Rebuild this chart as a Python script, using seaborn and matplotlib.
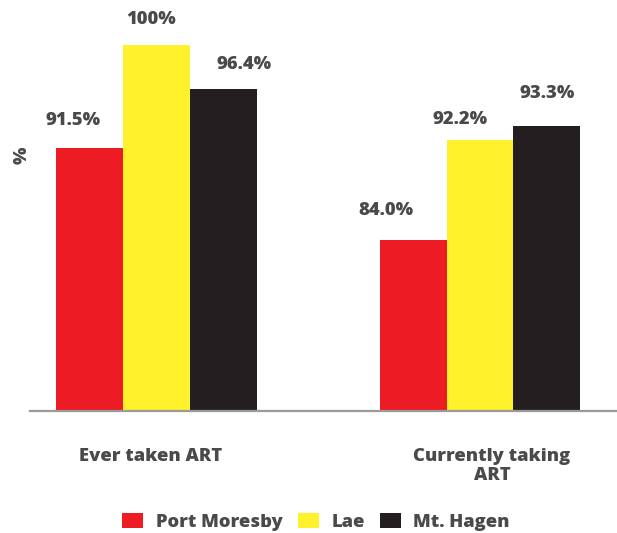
import matplotlib
matplotlib.use("Agg")
import matplotlib.pyplot as plt
import seaborn as sns
import pandas as pd

# Data
measures = ["Ever taken ART", "Currently taking\nART"]
cities = ["Port Moresby", "Lae", "Mt. Hagen"]
port_moresby = [91.5, 84.0]
lae = [100.0, 92.2]
mt_hagen = [96.4, 93.3]
value_labels = [["91.5%", "84.0%"], ["100%", "92.2%"], ["96.4%", "93.3%"]]

colors = ["#ED1C24", "#FFF22D", "#231F20"]
text_color = "#4A4A4A"
weight = "heavy"
fsize = 13.2

rows = []
for city, vals in zip(cities, [port_moresby, lae, mt_hagen]):
    for m, v in zip(measures, vals):
        rows.append({"measure": m, "city": city, "value": v})
df = pd.DataFrame(rows)

sns.set_theme(style="white")
plt.rcParams["font.family"] = ["Open Sans", "DejaVu Sans"]
plt.rcParams["font.weight"] = weight

fig = plt.figure(figsize=(6.17, 5.33), dpi=100)
W, H = 617, 533
ax = fig.add_axes([30 / W, 1 - 411 / H, 1 - 30 / W, (411 - 8) / H])

sns.barplot(data=df, x="measure", y="value", hue="city", order=measures,
            hue_order=cities, palette=colors, saturation=1, width=0.621,
            errorbar=None, linewidth=0, ax=ax)

ax.set_ylim(70, 103)
ax.set_xlim(-0.391, 1.4235)

for s in ["top", "right", "left"]:
    ax.spines[s].set_visible(False)
ax.spines["bottom"].set_color("#9A9A9A")
ax.spines["bottom"].set_linewidth(1.6)
ax.set_yticks([])
ax.set_xticks([])
ax.set_xlabel("")
ax.set_ylabel("")

# value labels above each bar (pixel offsets from bar top-centre)
label_dx = [[-16, -27], [-5, -20], [21, 0]]
label_dy = [[28, 30], [25, 20], [24, 33]]
for ci, cont in enumerate(ax.containers):
    for bi, bar in enumerate(cont):
        x = bar.get_x() + bar.get_width() / 2
        y = bar.get_height()
        ax.annotate(value_labels[ci][bi], xy=(x, y), xycoords="data",
                    xytext=(label_dx[ci][bi], label_dy[ci][bi]),
                    textcoords="offset pixels", ha="center", va="center",
                    fontsize=fsize, fontweight=weight, color=text_color,
                    annotation_clip=False)

# category labels under the groups
cat_dx = [-6, 12]
for i, m in enumerate(measures):
    ax.annotate(m, xy=(i, 0), xycoords=("data", "axes fraction"),
                xytext=(cat_dx[i], -37), textcoords="offset pixels",
                ha="center", va="top", fontsize=fsize, fontweight=weight,
                color=text_color, linespacing=1.12, annotation_clip=False)

fig.text(22 / W, 1 - 155 / H, "%", rotation=90, ha="center", va="center",
         fontsize=fsize, fontweight=weight, color=text_color)

handles, labels = ax.get_legend_handles_labels()
if ax.legend_ is not None:
    ax.legend_.remove()
fig.legend(handles, labels, loc="center", bbox_to_anchor=(316 / W, 1 - 522 / H),
           ncol=3, frameon=False, handlelength=1.15,
           handleheight=0.85, handletextpad=0.7, columnspacing=0.8,
           prop={"weight": weight, "size": fsize}, labelcolor=text_color,
           borderaxespad=0, borderpad=0)

fig.savefig("out.png", dpi=100)
